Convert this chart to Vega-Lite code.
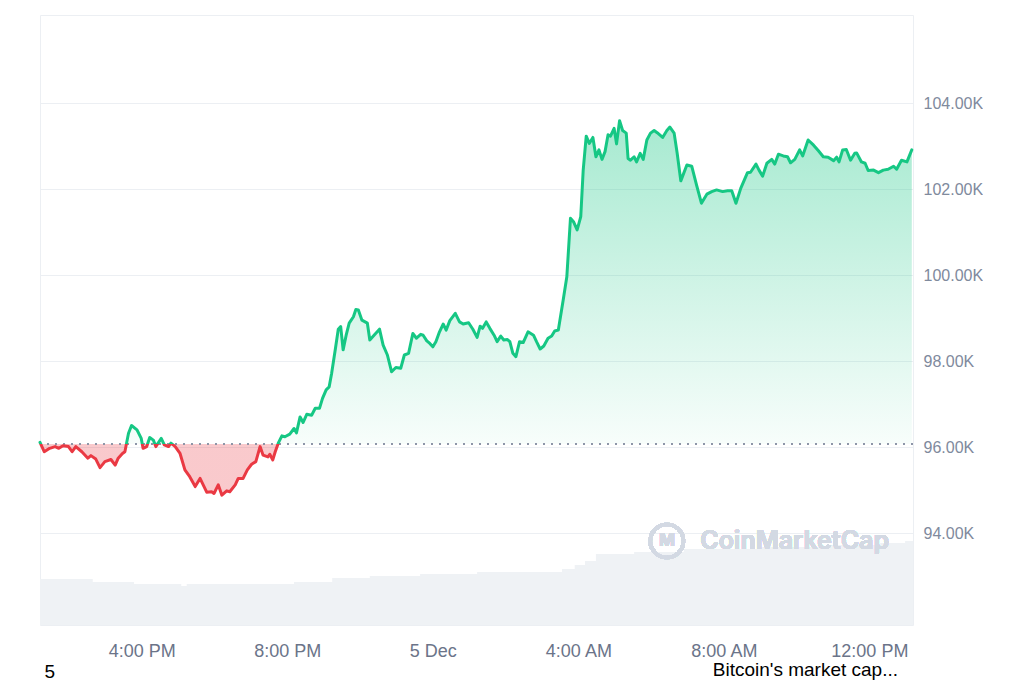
{
  "$schema": "https://vega.github.io/schema/vega-lite/v6.json",
  "width": 873,
  "height": 610,
  "padding": {"left": 38, "top": 15, "right": 0, "bottom": 0},
  "background": "white",
  "config": {
    "view": {"stroke": "#eceff3", "strokeWidth": 1},
    "font": "Liberation Sans",
    "axisX": {"domain": false, "ticks": false, "grid": false, "labelFont": "Liberation Sans", "labelFontSize": 18, "labelColor": "#6b7489", "labelPadding": 17, "labelExpr": "hours(datum.value)==0 ? timeFormat(datum.value,'%-d %b') : timeFormat(datum.value,'%-I:%M %p')", "titleAnchor": "start", "titleAlign": "left", "titleX": 4, "titleY": 52, "titleBaseline": "alphabetic", "titleFont": "Liberation Sans", "titleFontSize": 19, "titleFontWeight": "normal", "titleColor": "#000000"}
  },
  "title": {"text": "Bitcoin's market cap...", "orient": "bottom", "anchor": "end", "frame": "group", "font": "Liberation Sans", "fontSize": 19, "fontWeight": "normal", "color": "#000000", "dx": -15, "dy": -20, "offset": 0},
  "datasets": {
    "vol": [
      {"t": "2024-12-04T13:12", "v": 46}, {"t": "2024-12-04T14:39", "v": 43}, {"t": "2024-12-04T15:47", "v": 41},
      {"t": "2024-12-04T17:05", "v": 39}, {"t": "2024-12-04T17:14", "v": 41}, {"t": "2024-12-04T20:11", "v": 43},
      {"t": "2024-12-04T21:14", "v": 47}, {"t": "2024-12-04T22:16", "v": 49}, {"t": "2024-12-04T23:39", "v": 51},
      {"t": "2024-12-05T01:13", "v": 53}, {"t": "2024-12-05T03:33", "v": 56}, {"t": "2024-12-05T03:54", "v": 60},
      {"t": "2024-12-05T04:11", "v": 64}, {"t": "2024-12-05T04:29", "v": 71}, {"t": "2024-12-05T05:32", "v": 73},
      {"t": "2024-12-05T06:54", "v": 76}, {"t": "2024-12-05T09:00", "v": 78}, {"t": "2024-12-05T10:55", "v": 80},
      {"t": "2024-12-05T12:18", "v": 82}, {"t": "2024-12-05T12:59", "v": 84}, {"t": "2024-12-05T13:12", "v": 84}
    ],
    "price": [
      {"t":"2024-12-04T13:12","p":96110},{"t":"2024-12-04T13:19","p":95890},{"t":"2024-12-04T13:28","p":95970},{"t":"2024-12-04T13:37","p":96010},
      {"t":"2024-12-04T13:43","p":95970},{"t":"2024-12-04T13:50","p":96030},{"t":"2024-12-04T13:59","p":96010},{"t":"2024-12-04T14:05","p":95890},
      {"t":"2024-12-04T14:11","p":96010},{"t":"2024-12-04T14:21","p":95890},{"t":"2024-12-04T14:31","p":95740},{"t":"2024-12-04T14:36","p":95800},
      {"t":"2024-12-04T14:44","p":95720},{"t":"2024-12-04T14:51","p":95520},{"t":"2024-12-04T14:59","p":95660},{"t":"2024-12-04T15:09","p":95710},
      {"t":"2024-12-04T15:16","p":95580},{"t":"2024-12-04T15:21","p":95740},{"t":"2024-12-04T15:28","p":95850},{"t":"2024-12-04T15:32","p":95890},
      {"t":"2024-12-04T15:38","p":96320},{"t":"2024-12-04T15:43","p":96500},{"t":"2024-12-04T15:52","p":96400},{"t":"2024-12-04T15:59","p":96200},
      {"t":"2024-12-04T16:02","p":95970},{"t":"2024-12-04T16:08","p":96010},{"t":"2024-12-04T16:13","p":96220},{"t":"2024-12-04T16:19","p":96160},
      {"t":"2024-12-04T16:23","p":96010},{"t":"2024-12-04T16:32","p":96200},{"t":"2024-12-04T16:37","p":96050},{"t":"2024-12-04T16:44","p":96010},
      {"t":"2024-12-04T16:48","p":96090},{"t":"2024-12-04T16:55","p":96010},{"t":"2024-12-04T17:03","p":95850},{"t":"2024-12-04T17:11","p":95470},
      {"t":"2024-12-04T17:19","p":95310},{"t":"2024-12-04T17:28","p":95080},{"t":"2024-12-04T17:36","p":95270},{"t":"2024-12-04T17:47","p":94950},
      {"t":"2024-12-04T17:55","p":94960},{"t":"2024-12-04T17:59","p":94920},{"t":"2024-12-04T18:06","p":95120},{"t":"2024-12-04T18:12","p":94880},
      {"t":"2024-12-04T18:20","p":94980},{"t":"2024-12-04T18:25","p":94960},{"t":"2024-12-04T18:34","p":95120},{"t":"2024-12-04T18:39","p":95270},
      {"t":"2024-12-04T18:47","p":95270},{"t":"2024-12-04T18:54","p":95470},{"t":"2024-12-04T19:01","p":95600},{"t":"2024-12-04T19:08","p":95660},
      {"t":"2024-12-04T19:15","p":96010},{"t":"2024-12-04T19:20","p":95810},{"t":"2024-12-04T19:28","p":95770},{"t":"2024-12-04T19:31","p":95830},
      {"t":"2024-12-04T19:36","p":95700},{"t":"2024-12-04T19:40","p":95890},{"t":"2024-12-04T19:45","p":96090},{"t":"2024-12-04T19:51","p":96260},
      {"t":"2024-12-04T19:56","p":96240},{"t":"2024-12-04T20:04","p":96300},{"t":"2024-12-04T20:11","p":96430},{"t":"2024-12-04T20:15","p":96330},
      {"t":"2024-12-04T20:21","p":96700},{"t":"2024-12-04T20:26","p":96570},{"t":"2024-12-04T20:32","p":96760},{"t":"2024-12-04T20:40","p":96740},
      {"t":"2024-12-04T20:46","p":96900},{"t":"2024-12-04T20:53","p":96900},{"t":"2024-12-04T20:58","p":97130},{"t":"2024-12-04T21:04","p":97330},
      {"t":"2024-12-04T21:09","p":97400},{"t":"2024-12-04T21:13","p":97710},{"t":"2024-12-04T21:19","p":98260},{"t":"2024-12-04T21:24","p":98740},
      {"t":"2024-12-04T21:28","p":98800},{"t":"2024-12-04T21:32","p":98260},{"t":"2024-12-04T21:37","p":98600},{"t":"2024-12-04T21:42","p":98880},
      {"t":"2024-12-04T21:49","p":99030},{"t":"2024-12-04T21:53","p":99200},{"t":"2024-12-04T21:57","p":99190},{"t":"2024-12-04T22:03","p":98950},
      {"t":"2024-12-04T22:12","p":98880},{"t":"2024-12-04T22:16","p":98490},{"t":"2024-12-04T22:23","p":98600},{"t":"2024-12-04T22:32","p":98740},
      {"t":"2024-12-04T22:38","p":98370},{"t":"2024-12-04T22:45","p":98140},{"t":"2024-12-04T22:52","p":97750},{"t":"2024-12-04T22:59","p":97850},
      {"t":"2024-12-04T23:07","p":97830},{"t":"2024-12-04T23:13","p":98140},{"t":"2024-12-04T23:20","p":98180},{"t":"2024-12-04T23:27","p":98640},
      {"t":"2024-12-04T23:33","p":98530},{"t":"2024-12-04T23:40","p":98620},{"t":"2024-12-04T23:44","p":98600},{"t":"2024-12-04T23:50","p":98470},
      {"t":"2024-12-04T23:55","p":98410},{"t":"2024-12-05T00:00","p":98330},{"t":"2024-12-05T00:05","p":98450},{"t":"2024-12-05T00:11","p":98680},
      {"t":"2024-12-05T00:17","p":98860},{"t":"2024-12-05T00:22","p":98720},{"t":"2024-12-05T00:28","p":98940},{"t":"2024-12-05T00:37","p":99110},
      {"t":"2024-12-05T00:44","p":98910},{"t":"2024-12-05T00:50","p":98860},{"t":"2024-12-05T00:59","p":98890},{"t":"2024-12-05T01:06","p":98740},
      {"t":"2024-12-05T01:13","p":98550},{"t":"2024-12-05T01:18","p":98810},{"t":"2024-12-05T01:22","p":98760},{"t":"2024-12-05T01:28","p":98910},
      {"t":"2024-12-05T01:34","p":98760},{"t":"2024-12-05T01:41","p":98600},{"t":"2024-12-05T01:46","p":98450},{"t":"2024-12-05T01:52","p":98580},
      {"t":"2024-12-05T01:57","p":98490},{"t":"2024-12-05T02:03","p":98500},{"t":"2024-12-05T02:07","p":98450},{"t":"2024-12-05T02:12","p":98180},
      {"t":"2024-12-05T02:17","p":98100},{"t":"2024-12-05T02:23","p":98450},{"t":"2024-12-05T02:29","p":98430},{"t":"2024-12-05T02:37","p":98680},
      {"t":"2024-12-05T02:46","p":98600},{"t":"2024-12-05T02:51","p":98450},{"t":"2024-12-05T02:57","p":98280},{"t":"2024-12-05T03:03","p":98350},
      {"t":"2024-12-05T03:10","p":98530},{"t":"2024-12-05T03:16","p":98580},{"t":"2024-12-05T03:21","p":98700},{"t":"2024-12-05T03:27","p":98720},
      {"t":"2024-12-05T03:35","p":99420},{"t":"2024-12-05T03:41","p":99960},{"t":"2024-12-05T03:47","p":101320},{"t":"2024-12-05T03:52","p":101240},
      {"t":"2024-12-05T03:58","p":101050},{"t":"2024-12-05T04:04","p":101360},{"t":"2024-12-05T04:08","p":102440},{"t":"2024-12-05T04:13","p":103230},
      {"t":"2024-12-05T04:18","p":103060},{"t":"2024-12-05T04:24","p":103200},{"t":"2024-12-05T04:29","p":102750},{"t":"2024-12-05T04:34","p":102910},
      {"t":"2024-12-05T04:39","p":102690},{"t":"2024-12-05T04:44","p":102870},{"t":"2024-12-05T04:49","p":103260},{"t":"2024-12-05T04:53","p":103230},
      {"t":"2024-12-05T04:59","p":103410},{"t":"2024-12-05T05:03","p":103050},{"t":"2024-12-05T05:08","p":103590},{"t":"2024-12-05T05:13","p":103360},
      {"t":"2024-12-05T05:19","p":103300},{"t":"2024-12-05T05:22","p":102710},{"t":"2024-12-05T05:26","p":102670},{"t":"2024-12-05T05:32","p":102750},
      {"t":"2024-12-05T05:36","p":102630},{"t":"2024-12-05T05:42","p":102830},{"t":"2024-12-05T05:47","p":102690},{"t":"2024-12-05T05:53","p":103140},
      {"t":"2024-12-05T05:59","p":103300},{"t":"2024-12-05T06:05","p":103360},{"t":"2024-12-05T06:10","p":103310},{"t":"2024-12-05T06:19","p":103200},
      {"t":"2024-12-05T06:26","p":103360},{"t":"2024-12-05T06:31","p":103440},{"t":"2024-12-05T06:38","p":103300},{"t":"2024-12-05T06:43","p":102830},
      {"t":"2024-12-05T06:49","p":102190},{"t":"2024-12-05T06:59","p":102560},{"t":"2024-12-05T07:07","p":102530},{"t":"2024-12-05T07:15","p":102090},
      {"t":"2024-12-05T07:23","p":101670},{"t":"2024-12-05T07:32","p":101880},{"t":"2024-12-05T07:40","p":101940},{"t":"2024-12-05T07:48","p":101980},
      {"t":"2024-12-05T07:58","p":101940},{"t":"2024-12-05T08:06","p":101960},{"t":"2024-12-05T08:13","p":101960},{"t":"2024-12-05T08:20","p":101670},
      {"t":"2024-12-05T08:28","p":102020},{"t":"2024-12-05T08:39","p":102380},{"t":"2024-12-05T08:44","p":102390},{"t":"2024-12-05T08:53","p":102580},
      {"t":"2024-12-05T08:58","p":102440},{"t":"2024-12-05T09:04","p":102300},{"t":"2024-12-05T09:11","p":102600},{"t":"2024-12-05T09:19","p":102690},
      {"t":"2024-12-05T09:24","p":102580},{"t":"2024-12-05T09:30","p":102810},{"t":"2024-12-05T09:38","p":102770},{"t":"2024-12-05T09:45","p":102750},
      {"t":"2024-12-05T09:50","p":102610},{"t":"2024-12-05T09:57","p":102690},{"t":"2024-12-05T10:05","p":102910},{"t":"2024-12-05T10:10","p":102770},
      {"t":"2024-12-05T10:19","p":103140},{"t":"2024-12-05T10:28","p":103020},{"t":"2024-12-05T10:36","p":102890},{"t":"2024-12-05T10:44","p":102750},
      {"t":"2024-12-05T10:52","p":102740},{"t":"2024-12-05T11:01","p":102660},{"t":"2024-12-05T11:06","p":102740},{"t":"2024-12-05T11:10","p":102630},
      {"t":"2024-12-05T11:16","p":102910},{"t":"2024-12-05T11:22","p":102920},{"t":"2024-12-05T11:29","p":102670},{"t":"2024-12-05T11:36","p":102830},
      {"t":"2024-12-05T11:39","p":102840},{"t":"2024-12-05T11:47","p":102630},{"t":"2024-12-05T11:53","p":102600},{"t":"2024-12-05T11:58","p":102430},
      {"t":"2024-12-05T12:07","p":102440},{"t":"2024-12-05T12:15","p":102380},{"t":"2024-12-05T12:23","p":102440},{"t":"2024-12-05T12:31","p":102460},
      {"t":"2024-12-05T12:40","p":102530},{"t":"2024-12-05T12:45","p":102460},{"t":"2024-12-05T12:53","p":102670},{"t":"2024-12-05T13:02","p":102630},
      {"t":"2024-12-05T13:10","p":102910}
    ]
  },
  "layer": [
    {
      "data": {"name": "vol"},
      "mark": {"type": "area", "interpolate": "step-after", "color": "#eff2f5"},
      "encoding": {
        "x": {"field": "t", "type": "temporal", "title": "5",
              "scale": {"domain": [{"year": 2024, "month": 12, "date": 4, "hours": 13, "minutes": 12}, {"year": 2024, "month": 12, "date": 5, "hours": 13, "minutes": 12}]},
              "axis": {"values": [
                {"year": 2024, "month": 12, "date": 4, "hours": 16}, {"year": 2024, "month": 12, "date": 4, "hours": 20},
                {"year": 2024, "month": 12, "date": 5, "hours": 0}, {"year": 2024, "month": 12, "date": 5, "hours": 4},
                {"year": 2024, "month": 12, "date": 5, "hours": 8}, {"year": 2024, "month": 12, "date": 5, "hours": 12}]}},
        "y": {"field": "v", "type": "quantitative", "scale": {"domain": [0, 610], "nice": false}, "axis": null}
      }
    },
    {
      "data": {"name": "price"},
      "encoding": {
        "y": {"field": "p", "type": "quantitative",
              "scale": {"domain": [91861, 106047], "nice": false, "zero": false},
              "axis": {"orient": "right", "values": [94000, 96000, 98000, 100000, 102000, 104000], "labelExpr": "format(datum.value/1000, '.2f') + 'K'", "domain": false, "ticks": false, "grid": true, "gridColor": "#eceff3", "gridWidth": 1, "labelPadding": 10, "labelFont": "Liberation Sans", "labelFontSize": 16, "labelColor": "#808a9d", "title": null}}
      },
      "layer": [
        {
          "mark": {"type": "area", "fill": {"gradient": "linear", "x1": 0, "y1": 0, "x2": 0, "y2": 1, "stops": [
            {"offset": 0, "color": "rgba(22,199,132,0.38)"},
            {"offset": 0.8634, "color": "rgba(22,199,132,0.03)"},
            {"offset": 0.8634, "color": "rgba(234,57,67,0.27)"},
            {"offset": 1, "color": "rgba(234,57,67,0.27)"}]}},
          "encoding": {
            "x": {"field": "t", "type": "temporal", "title": "5", "scale": {"domain": [{"year": 2024, "month": 12, "date": 4, "hours": 13, "minutes": 12}, {"year": 2024, "month": 12, "date": 5, "hours": 13, "minutes": 12}]}},
            "y2": {"datum": 96070}
          }
        },
        {
          "mark": {"type": "rule", "color": "#8e96a8", "strokeDash": [1.5, 6.5], "strokeWidth": 1.5},
          "encoding": {"y": {"datum": 96070}}
        },
        {
          "mark": {"type": "line", "strokeWidth": 3, "strokeJoin": "round", "strokeCap": "round", "stroke": {"gradient": "linear", "x1": 0, "y1": 0, "x2": 0, "y2": 1, "stops": [
            {"offset": 0, "color": "#16c784"},
            {"offset": 0.8634, "color": "#16c784"},
            {"offset": 0.8634, "color": "#ea3943"},
            {"offset": 1, "color": "#ea3943"}]}},
          "encoding": {
            "x": {"field": "t", "type": "temporal", "title": "5", "scale": {"domain": [{"year": 2024, "month": 12, "date": 4, "hours": 13, "minutes": 12}, {"year": 2024, "month": 12, "date": 5, "hours": 13, "minutes": 12}]}}
          }
        },
        {
          "mark": {"type": "point", "shape": "circle", "filled": false, "size": 1100, "strokeWidth": 3.5, "color": "#d3d9e3", "opacity": 1},
          "encoding": {
            "x": {"datum": {"year": 2024, "month": 12, "date": 5, "hours": 6, "minutes": 26}, "type": "temporal"},
            "y": {"datum": 93814}
          }
        },
        {
          "mark": {"type": "text", "text": "M", "font": "Inter", "fontSize": 17, "fontWeight": "bold", "color": "#d3d9e3", "align": "center", "baseline": "middle"},
          "encoding": {
            "x": {"datum": {"year": 2024, "month": 12, "date": 5, "hours": 6, "minutes": 26}, "type": "temporal"},
            "y": {"datum": 93814}
          }
        },
        {
          "mark": {"type": "text", "text": "CoinMarketCap", "font": "Inter", "fontSize": 25, "fontWeight": 600, "color": "#d3d9e3", "align": "left", "baseline": "middle"},
          "encoding": {
            "x": {"datum": {"year": 2024, "month": 12, "date": 5, "hours": 7, "minutes": 21}, "type": "temporal"},
            "y": {"datum": 93814}
          }
        }
      ]
    }
  ],
  "resolve": {"scale": {"y": "independent"}}
}
